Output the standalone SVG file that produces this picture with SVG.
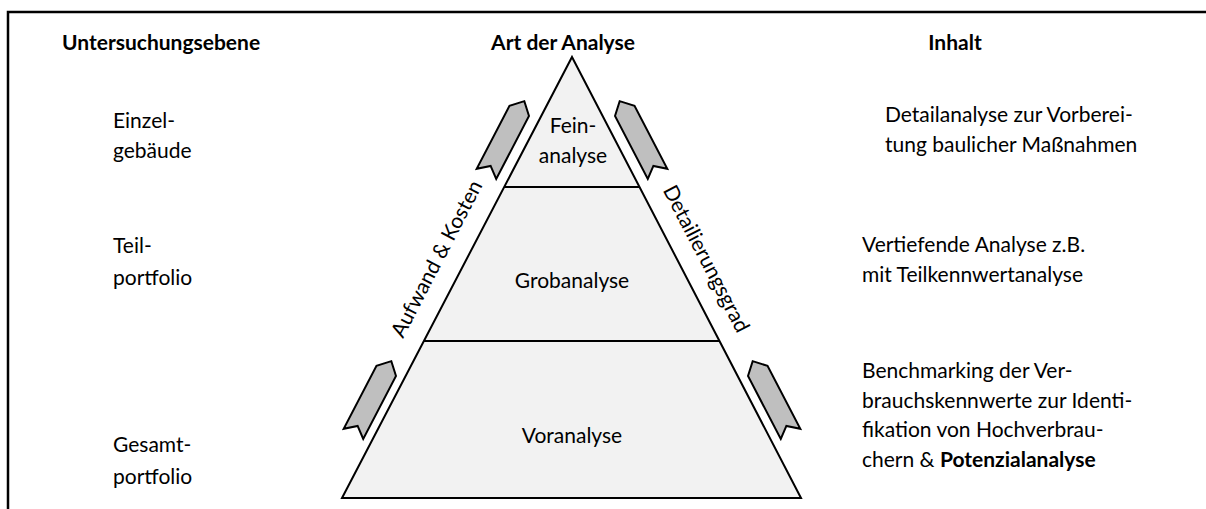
<svg xmlns="http://www.w3.org/2000/svg" width="1206" height="509" viewBox="0 0 1206 509">
<style>
text{font-family:Lato,"Open Sans","Liberation Sans",sans-serif;font-size:21px;fill:#000}
.b{font-weight:bold}
.m{text-anchor:middle}
.tri{fill:#f2f2f2;stroke:#000;stroke-width:2}
.div{stroke:#000;stroke-width:2}
.arr{fill:#bfbfbf;stroke:#000;stroke-width:2;stroke-linejoin:miter}
</style>
<defs>
<polygon id="ribbon" class="arr" points="0,0 11,-11 22,0 22,71 11,62 0,71"/>
</defs>
<rect width="1206" height="509" fill="#fff"/>
<path d="M8,509 V12 H1206" fill="none" stroke="#000" stroke-width="2.5"/>
<g id="headers">
<text class="b" x="62" y="50">Untersuchungsebene</text>
<text class="b m" x="563" y="50">Art der Analyse</text>
<text class="b m" x="955" y="50">Inhalt</text>
</g>
<g id="pyramid">
<polygon class="tri" points="572,57 801,498 342,498"/>
<line class="div" x1="504" y1="187" x2="640" y2="187"/>
<line class="div" x1="424" y1="341" x2="720" y2="341"/>
<text class="m" x="573" y="133">Fein-</text>
<text class="m" x="573" y="163">analyse</text>
<text class="m" x="572" y="288">Grobanalyse</text>
<text class="m" x="572" y="443">Voranalyse</text>
</g>
<g id="connectors">
<use href="#ribbon" transform="translate(615,116) rotate(-27.5)"/>
<use href="#ribbon" transform="translate(748,376) rotate(-27.5)"/>
<g transform="translate(1144,0) scale(-1,1)">
<use href="#ribbon" transform="translate(615,116) rotate(-27.5)"/>
<use href="#ribbon" transform="translate(748,376) rotate(-27.5)"/>
</g>
<text class="m" transform="translate(443,262) rotate(-62.5)">Aufwand &amp; Kosten</text>
<text class="m" transform="translate(700,262) rotate(62.5)">Detailierungsgrad</text>
</g>
<g id="levels">
<text x="113" y="128">Einzel-</text>
<text x="113" y="158">gebäude</text>
<text x="113" y="253">Teil-</text>
<text x="113" y="285">portfolio</text>
<text x="113" y="452">Gesamt-</text>
<text x="113" y="484">portfolio</text>
</g>
<g id="contents">
<text x="885" y="122">Detailanalyse zur Vorberei-</text>
<text x="885" y="152">tung baulicher Maßnahmen</text>
<text x="862" y="252">Vertiefende Analyse z.B.</text>
<text x="862" y="282">mit Teilkennwertanalyse</text>
<text x="862" y="378">Benchmarking der Ver-</text>
<text x="862" y="408">brauchskennwerte zur Identi-</text>
<text x="862" y="437">fikation von Hochverbrau-</text>
<text x="862" y="467">chern &amp; <tspan class="b">Potenzialanalyse</tspan></text>
</g>
</svg>
